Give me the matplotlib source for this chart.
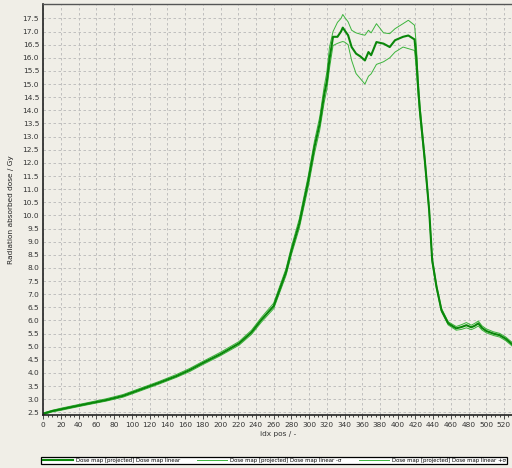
import matplotlib
matplotlib.use("Agg")
import matplotlib.pyplot as plt
from matplotlib.ticker import MultipleLocator, FormatStrFormatter, FixedLocator

# Data
idx_pos = [0, 10, 20, 34, 50, 71, 90, 108, 130, 150, 165, 180, 200, 221, 235, 246,
           260, 267, 274, 280, 289, 299, 306, 312, 317, 320, 323, 327, 332, 336, 338,
           340, 344, 348, 353, 358, 363, 367, 370, 376, 384, 391, 397, 406, 412, 419,
           421, 423, 425, 430.6, 435.5, 438.9, 443.8, 449.4, 457, 466, 472, 477.5, 483,
           487, 491, 495, 500, 508, 515, 522, 529]
dose = [2.45, 2.55, 2.62, 2.72, 2.83, 2.97, 3.13, 3.35, 3.62, 3.88, 4.11, 4.38, 4.72,
        5.13, 5.55, 6.02, 6.55, 7.20, 7.85, 8.65, 9.70, 11.30, 12.60, 13.50, 14.60,
        15.10, 15.95, 16.80, 16.80, 17.00, 17.15, 17.05, 16.86, 16.41, 16.16, 16.05,
        15.90, 16.22, 16.10, 16.60, 16.54, 16.41, 16.67, 16.80, 16.85, 16.70, 16.00,
        14.90, 14.00, 12.10, 10.20, 8.30, 7.28, 6.39, 5.89, 5.70, 5.75, 5.82, 5.74,
        5.80, 5.89, 5.72, 5.60, 5.50, 5.44, 5.30, 5.10]
dose_minus = [2.42, 2.52, 2.58, 2.68, 2.79, 2.93, 3.08, 3.30, 3.57, 3.83, 4.05, 4.32,
              4.66, 5.06, 5.47, 5.93, 6.45, 7.08, 7.72, 8.50, 9.52, 11.08, 12.35, 13.25,
              14.30, 14.80, 15.60, 16.47, 16.55, 16.60, 16.62, 16.60, 16.50, 15.90,
              15.40, 15.20, 15.00, 15.30, 15.39, 15.75, 15.85, 16.00, 16.22, 16.41,
              16.35, 16.28, 15.60, 14.60, 13.80, 11.95, 10.08, 8.20, 7.20, 6.33, 5.83,
              5.63, 5.66, 5.72, 5.65, 5.71, 5.79, 5.64, 5.53, 5.43, 5.37, 5.23, 5.03]
dose_plus = [2.48, 2.58, 2.66, 2.76, 2.87, 3.02, 3.18, 3.40, 3.67, 3.94, 4.17, 4.44,
             4.79, 5.20, 5.63, 6.11, 6.66, 7.32, 7.98, 8.80, 9.88, 11.50, 12.82, 13.75,
             14.90, 15.45, 16.40, 17.00, 17.35, 17.50, 17.65, 17.55, 17.37, 17.05,
             16.95, 16.90, 16.86, 17.05, 16.95, 17.30, 16.95, 16.92, 17.11, 17.30,
             17.43, 17.24, 16.50, 15.20, 14.25, 12.25, 10.32, 8.40, 7.36, 6.46, 5.95,
             5.77, 5.84, 5.92, 5.82, 5.89, 5.98, 5.80, 5.68, 5.57, 5.51, 5.37, 5.17]

y_ticks = [2.5 + 0.5 * i for i in range(31)]

labels = ["Dose map [projected] Dose map linear",
          "Dose map [projected] Dose map linear -σ",
          "Dose map [projected] Dose map linear +σ"]

bg = "#f0eee7"
fig = plt.figure(figsize=(5.12, 4.68), dpi=100, facecolor=bg)
ax = fig.add_axes([0.0846, 0.1132, 1 - 0.0846, 0.9915 - 0.1132])
ax.set_facecolor(bg)

l2, = ax.plot(idx_pos, dose_minus, color="#3cb43c", lw=0.7, label=labels[1])
l3, = ax.plot(idx_pos, dose_plus, color="#3cb43c", lw=0.7, label=labels[2])
l1, = ax.plot(idx_pos, dose, color="#0a870a", lw=1.5, label=labels[0])

ax.set_xlim(0, 529)
ax.set_ylim(2.4, 18.05)
ax.xaxis.set_major_locator(MultipleLocator(20))
ax.xaxis.set_minor_locator(MultipleLocator(5))
ax.yaxis.set_major_locator(FixedLocator(y_ticks))
ax.yaxis.set_major_formatter(FormatStrFormatter("%.1f"))
ax.grid(True, which="major", color="#b8b8b8", linestyle=(0, (3, 3)), lw=0.6)

ax.tick_params(axis="x", which="major", length=3, width=0.6, labelsize=5.3,
               colors="#333333", pad=2)
ax.tick_params(axis="x", which="minor", length=1.5, width=0.5)
ax.tick_params(axis="y", which="major", length=0, labelsize=5.3, colors="#333333", pad=3)

for s in ["left", "bottom"]:
    ax.spines[s].set_color("#222222")
    ax.spines[s].set_linewidth(1.2)
ax.spines["top"].set_color("#555555")
ax.spines["top"].set_linewidth(1.0)
ax.spines["right"].set_visible(False)

ax.set_xlabel("idx pos / -", fontsize=5.3, color="#333333", labelpad=2)
ax.set_ylabel("Radiation absorbed dose / Gy", fontsize=5.3, color="#222222", labelpad=6)

leg = fig.legend([l1, l2, l3], labels, loc="lower center", bbox_to_anchor=(0.536, 0.002),
                 ncol=3, fontsize=3.9, frameon=True, fancybox=False, edgecolor="black",
                 facecolor="white", framealpha=1, handlelength=5.5, columnspacing=3.2,
                 borderpad=0.25, handletextpad=0.6)
leg.get_frame().set_linewidth(0.9)

fig.savefig("out.png", dpi=100, facecolor=bg)
